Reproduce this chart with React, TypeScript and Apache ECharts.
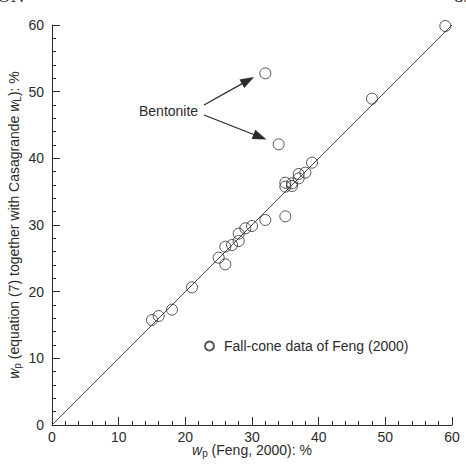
import React, { useEffect, useRef } from "react";
import * as echarts from "echarts";

// Plastic limit from Feng (2000) fall-cone data (x) vs. equation (7) with Casagrande wL (y)
const fengWp = [15, 16, 18, 21, 25, 26, 26, 27, 28, 28, 29, 30, 32, 35, 35, 35, 36, 36, 37, 37, 38, 39, 48, 59];
const eqWp = [15.75, 16.35, 17.3, 20.65, 25.1, 24.1, 26.75, 27.0, 27.6, 28.7, 29.5, 29.85, 30.75, 31.3, 35.75, 36.35, 35.85, 36.25, 37.0, 37.65, 37.85, 39.35, 48.95, 59.85];

// Bentonite samples
const bentoniteFeng = [32, 34];
const bentoniteEq = [52.75, 42.1];

// Line of equality
const equalityLine = [0, 60];

// Arrow annotations: [start, end] in data units
const arrowStarts = [[22.8, 48.0], [22.8, 46.5]];
const arrowEnds = [[29.4, 51.7], [31.2, 43.2]];

const axisTicks = { min: 0, max: 60, interval: 10 };

const FONT = "'Liberation Sans', Arial, sans-serif";
const INK = "#2b2b2b";

const nameRich = {
  i: { fontStyle: "italic", fontSize: 14, fontFamily: FONT, color: INK },
  s: { fontSize: 10, fontFamily: FONT, color: INK, padding: [6, 0, 0, 0] },
};

export default function App() {
  const ref = useRef<HTMLDivElement>(null);

  useEffect(() => {
    if (!ref.current) return;
    const chart = echarts.init(ref.current, undefined, { renderer: "svg" });

    const points = fengWp.map((x, i) => [x, eqWp[i]]).concat(
      bentoniteFeng.map((x, i) => [x, bentoniteEq[i]])
    );

    const axisCommon = {
      type: "value" as const,
      min: axisTicks.min,
      max: axisTicks.max,
      interval: axisTicks.interval,
      splitLine: { show: false },
      axisLine: { show: true, lineStyle: { color: INK, width: 1 } },
      axisTick: { show: true, inside: true, length: 8, lineStyle: { color: INK, width: 1 } },
      minorTick: { show: true, splitNumber: 5, length: 4, lineStyle: { color: INK, width: 1 } },
      axisLabel: { color: INK, fontSize: 14, fontFamily: FONT },
    };

    chart.setOption({
      animation: false,
      backgroundColor: "#ffffff",
      textStyle: { fontFamily: FONT },
      grid: { left: 52, right: 14, top: 25, bottom: 39, containLabel: false, outerBoundsMode: "none" },
      legend: {
        data: ["Fall-cone data of Feng (2000)"],
        left: 199,
        top: 334,
        itemWidth: 19,
        itemHeight: 9,
        textStyle: { color: INK, fontSize: 14, fontFamily: FONT },
      },
      xAxis: {
        ...axisCommon,
        axisLabel: { ...axisCommon.axisLabel, margin: 6, lineHeight: 11 },
      },
      yAxis: {
        ...axisCommon,
        name: "{i|w}{s|p} (equation (7) together with Casagrande {i|w}{s|L}): %",
        nameLocation: "middle",
        nameMoveOverlap: false,
        nameGap: 30,
        nameTextStyle: { color: INK, fontSize: 14, fontFamily: FONT, rich: nameRich },
        axisLabel: { ...axisCommon.axisLabel, margin: 8 },
      },
      graphic: [
        {
          // x-axis title, set just beneath the tick labels
          type: "text",
          x: 252,
          y: 442,
          style: {
            text: "{i|w}{s|p} (Feng, 2000): %",
            fill: INK,
            fontSize: 14,
            fontFamily: FONT,
            align: "center",
            verticalAlign: "top",
            rich: nameRich,
          },
        },
        {
          type: "text",
          left: 139,
          top: 104,
          style: { text: "Bentonite", fill: INK, fontSize: 14, fontFamily: FONT },
        },
        {
          type: "text",
          left: -3,
          top: -14,
          style: { text: "ON", fill: "#222", fontSize: 19, fontFamily: "'Liberation Serif', serif" },
        },
        {
          type: "text",
          left: 454,
          top: -14,
          style: { text: "83", fill: "#222", fontSize: 19, fontFamily: "'Liberation Serif', serif" },
        },
      ],
      series: [
        {
          name: "Equality",
          type: "line",
          data: equalityLine.map((v) => [v, v]),
          showSymbol: false,
          symbol: "none",
          lineStyle: { color: "#444", width: 1 },
          silent: true,
          z: 1,
          markLine: {
            silent: true,
            symbol: ["none", "triangle"],
            symbolSize: [10, 14],
            label: { show: false },
            lineStyle: { color: INK, width: 1.3, type: "solid" },
            data: arrowStarts.map((s, i) => [
              { coord: s },
              { coord: arrowEnds[i] },
            ]),
          },
        },
        {
          name: "Fall-cone data of Feng (2000)",
          type: "scatter",
          data: points,
          symbol: "circle",
          symbolSize: 11,
          itemStyle: { color: "rgba(255,255,255,0)", borderColor: INK, borderWidth: 1 },
          z: 3,
        },
      ],
    });

    return () => chart.dispose();
  }, []);

  return (
    <div
      ref={ref}
      style={{ position: "fixed", left: 0, top: 0, width: 466, height: 464, background: "#fff" }}
    />
  );
}
